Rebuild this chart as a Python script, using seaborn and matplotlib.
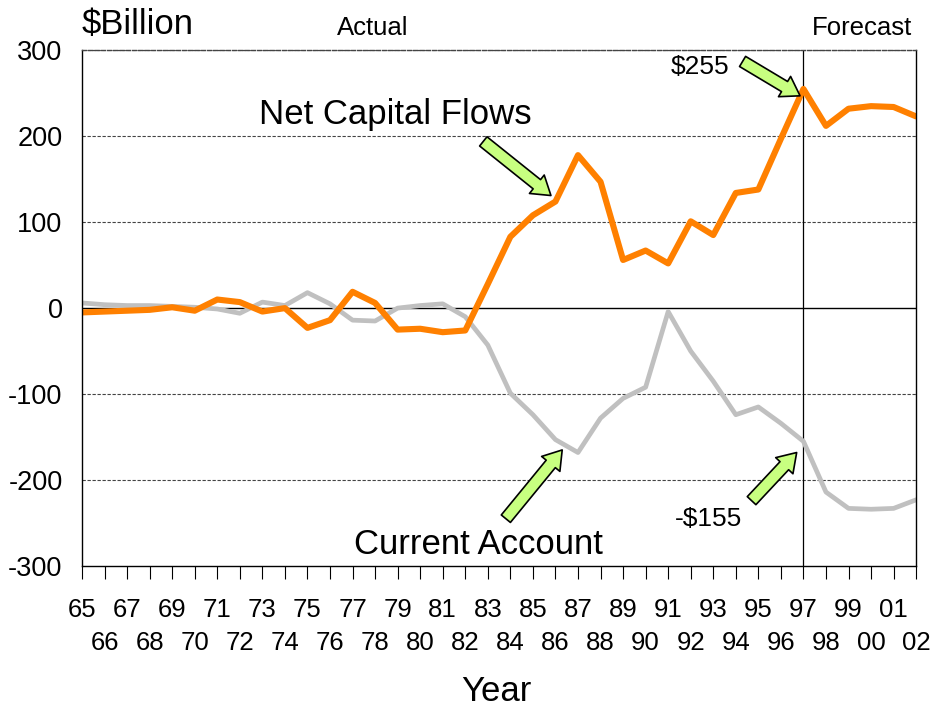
import seaborn as sns
import pandas as pd
import matplotlib.pyplot as plt

years = list(range(1965, 2003))
year_labels = ['65', '66', '67', '68', '69', '70', '71', '72', '73', '74',
               '75', '76', '77', '78', '79', '80', '81', '82', '83', '84',
               '85', '86', '87', '88', '89', '90', '91', '92', '93', '94',
               '95', '96', '97', '98', '99', '00', '01', '02']
net_capital = [-5, -4, -3, -2, 1, -3, 10, 7, -4, 0,
               -23, -14, 19, 6, -25, -24, -28, -26, 28, 83,
               108, 124, 178, 147, 56, 67, 52, 101, 85, 134,
               138, 197, 255, 212, 232, 235, 234, 223]
current_account = [6, 4, 3, 3, 2, 1, -1, -6, 7, 3,
                   18, 5, -14, -15, 0, 3, 5, -10, -43, -99,
                   -124, -153, -168, -128, -105, -92, -4, -50, -85, -124,
                   -115, -134, -155, -214, -233, -234, -233, -223]

df = pd.DataFrame({'year': years, 'Net Capital Flows': net_capital,
                   'Current Account': current_account})

sns.set_style('white')
plt.rcParams['font.family'] = ['Liberation Sans', 'DejaVu Sans']
plt.rcParams['text.color'] = 'black'
plt.rcParams['xtick.color'] = 'black'
plt.rcParams['ytick.color'] = 'black'
plt.rcParams['axes.labelcolor'] = 'black'

fig = plt.figure(figsize=(9.32, 7.08), dpi=100)
ax = fig.add_axes([0.088, 0.2006, 0.895, 0.7284])

sns.lineplot(data=df, x='year', y='Current Account', color='#c0c0c0', linewidth=3.4, ax=ax)
sns.lineplot(data=df, x='year', y='Net Capital Flows', color='#ff8000', linewidth=4.4, ax=ax)

ax.set_xlim(1965, 2002)
ax.set_ylim(-300, 300)
ax.set_yticks([-300, -200, -100, 0, 100, 200, 300])
ax.set_yticklabels(['-300', '-200', '-100', '0', '100', '200', '300'], fontsize=19.5)
for v in [-200, -100, 100, 200, 300]:
    ax.axhline(v, color='#444444', linestyle=(0, (3, 1.5)), linewidth=0.8, zorder=0)
ax.axhline(0, color='black', linewidth=1.0, zorder=1)
ax.axvline(1997, color='black', linewidth=0.9, zorder=1)

# two rows of year labels: odd positions on top row, even on the second
ax.set_xticks(years[0::2])
ax.set_xticklabels(year_labels[0::2], fontsize=18.5)
ax.set_xticks(years[1::2], minor=True)
ax.set_xticklabels(year_labels[1::2], minor=True, fontsize=18.5)
ax.tick_params(axis='x', which='both', direction='out', length=9, width=0.8,
               color='black', bottom=True)
ax.tick_params(axis='x', which='major', pad=14)
ax.tick_params(axis='x', which='minor', pad=38)
ax.tick_params(axis='y', length=0, pad=14)
for s in ax.spines.values():
    s.set_color('black')
    s.set_linewidth(1.0)
ax.spines['top'].set_linestyle((0, (3, 1.5)))
ax.spines['top'].set_color('#444444')

ax.set_xlabel('Year', fontsize=25)
ax.xaxis.set_label_coords(0.497, -0.243)
ax.xaxis.label.set_va('center')
ax.set_ylabel('')

fig.text(0.088, 0.942, '$Billion', fontsize=25, ha='left', va='bottom')
fig.text(0.40, 0.944, 'Actual', fontsize=18.5, ha='center', va='bottom')
fig.text(0.925, 0.944, 'Forecast', fontsize=18.5, ha='center', va='bottom')

ax.text(1978.9, 225, 'Net Capital Flows', fontsize=25, ha='center', va='center')
ax.text(1982.6, -275, 'Current Account', fontsize=25, ha='center', va='center')
ax.text(1992.4, 280, '$255', fontsize=19, ha='center', va='center')
ax.text(1992.8, -245, '-$155', fontsize=19, ha='center', va='center')

arrow = dict(arrowstyle='simple,head_width=1.7,head_length=1.3,tail_width=0.85',
             facecolor='#c8ff80', edgecolor='black', linewidth=1.2, shrinkA=0, shrinkB=0)
ax.annotate('', xy=(1985.8, 131), xytext=(1982.8, 194), arrowprops=arrow)
ax.annotate('', xy=(1986.3, -165), xytext=(1983.8, -245), arrowprops=arrow)
ax.annotate('', xy=(1996.85, 247), xytext=(1994.3, 287), arrowprops=arrow)
ax.annotate('', xy=(1996.7, -168), xytext=(1994.7, -224), arrowprops=arrow)

fig.savefig('out.png', dpi=100)
